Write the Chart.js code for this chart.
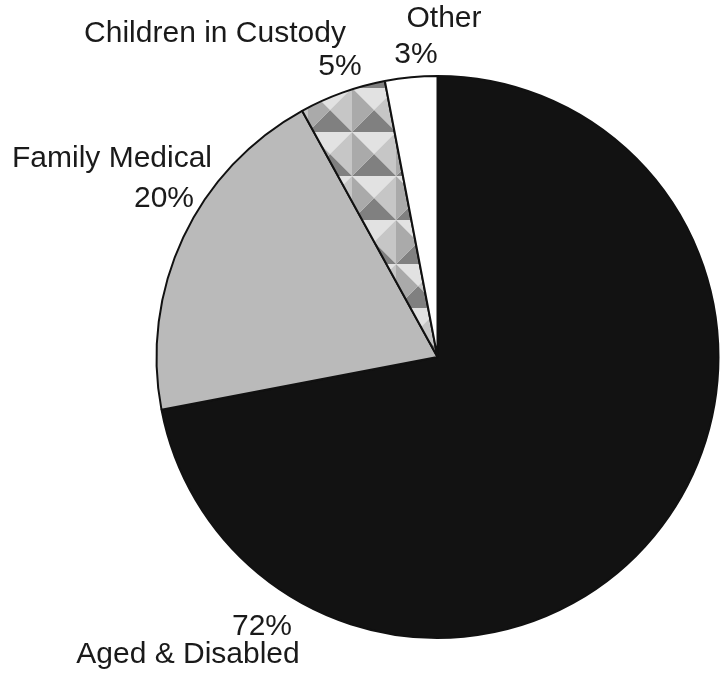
<!DOCTYPE html>
<html>
<head>
<meta charset="utf-8">
<script src="https://cdn.jsdelivr.net/npm/chart.js@4.4.0/dist/chart.umd.min.js"></script>
<style>
  body { margin: 0; background: #fff; }
  canvas { display: block; }
</style>
</head>
<body>
<canvas id="grafico-torta" width="721" height="677"></canvas>
<script>
// dati
var categorie = ["Aged & Disabled", "Family Medical", "Children in Custody", "Other"];
var percentuali = [72, 20, 5, 3];

// posizione etichette (nome e percentuale), in pixel
var posNome = [[188, 663], [112, 167], [215, 42], [444, 27]];
var posPerc = [[262, 635], [164, 207], [340, 75], [416, 63]];

// motivo a piramidi per "Children in Custody"
function creaPiramidi() {
    var t = 44;
    var c = document.createElement("canvas");
    c.width = t; c.height = t;
    var g = c.getContext("2d");
    var h = t / 2;
    function tri(x1, y1, x2, y2, col) {
        g.fillStyle = col;
        g.beginPath();
        g.moveTo(h, h); g.lineTo(x1, y1); g.lineTo(x2, y2);
        g.closePath(); g.fill();
    }
    tri(0, 0, t, 0, "#e2e2e2");   // sopra
    tri(t, 0, t, t, "#c6c6c6");   // destra
    tri(t, t, 0, t, "#808080");   // sotto
    tri(0, t, 0, 0, "#aaaaaa");   // sinistra
    return g.createPattern(c, "repeat");
}

var ctx = document.getElementById("grafico-torta").getContext("2d");
var coloriSfondo = ["#121212", "#bababa", creaPiramidi(), "#ffffff"];

var etichette = {
    id: "etichette",
    afterDraw: function(chart) {
        var c = chart.ctx;
        c.save();
        c.fillStyle = "#1a1a1a";
        c.font = "30px 'Liberation Sans', Arial, sans-serif";
        c.textAlign = "center";
        c.textBaseline = "alphabetic";
        for (var i = 0; i < categorie.length; i++) {
            c.fillText(categorie[i], posNome[i][0], posNome[i][1]);
            c.fillText(percentuali[i] + "%", posPerc[i][0], posPerc[i][1]);
        }
        c.restore();
    }
};

var chart = new Chart(ctx, {
    type: "pie",
    data: {
        labels: categorie,
        datasets: [{
            data: percentuali,
            backgroundColor: coloriSfondo,
            borderColor: "#111111",
            borderWidth: 2
        }]
    },
    options: {
        responsive: false,
        animation: false,
        layout: { padding: { left: 155, right: 1, top: 75, bottom: 38 } },
        plugins: {
            legend: { display: false },
            tooltip: { enabled: false }
        }
    },
    plugins: [etichette]
});
</script>
</body>
</html>
